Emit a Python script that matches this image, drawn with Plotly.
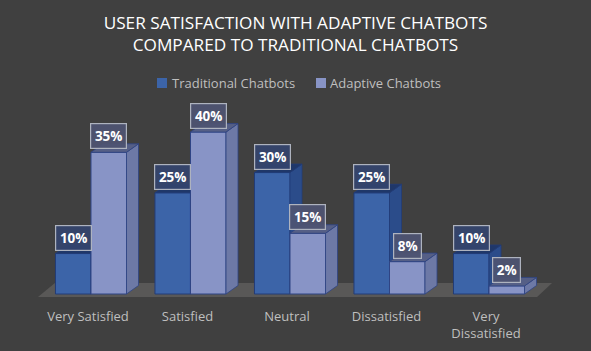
import plotly.graph_objects as go

categories = ["Very Satisfied", "Satisfied", "Neutral", "Dissatisfied", "Very<br>Dissatisfied"]
traditional = [10, 25, 30, 25, 10]
adaptive = [35, 40, 15, 8, 2]
series_names = ["Traditional Chatbots", "Adaptive Chatbots"]
title_text = "USER SATISFACTION WITH ADAPTIVE CHATBOTS<br>COMPARED TO TRADITIONAL CHATBOTS"

FONT = "Open Sans"
BG = "#404040"
BAR_W = 0.357
SHIFT = 0.03
DX = 0.1206
DY = 2.1
XR = [-0.5025, 4.673]
YR = [-1.48, 57.8]
M_L, M_R, M_T, M_B = 38, 38, 60, 51
W, H = 591, 351
xs = list(range(len(categories)))
FRONT = ["#3c64a8", "#8894c6"]


def px_x(p):
    return (p - M_L) / (W - M_L - M_R)


def px_y(p):
    return (H - M_B - p) / (H - M_T - M_B)


def faces(values, left_off):
    sx, sy, tx, ty = [], [], [], []
    for i, v in zip(xs, values):
        l = i + left_off
        r = l + BAR_W
        sx += [r, r + DX, r + DX, r, r, None]
        sy += [0, DY, v + DY, v, 0, None]
        tx += [l, l + DX, r + DX, r, l, None]
        ty += [v, v + DY, v + DY, v, v, None]
    return sx, sy, tx, ty


def add_series(fig, name, values, left_off, front, side, top, edge, xa, ya):
    fig.add_trace(go.Bar(
        x=xs, y=values, name=name, width=BAR_W, offset=left_off,
        marker=dict(color=front, line=dict(color=edge, width=1)),
        xaxis=xa, yaxis=ya, hoverinfo="skip", showlegend=False))
    sx, sy, tx, ty = faces(values, left_off)
    for px, py, c in ((sx, sy, side), (tx, ty, top)):
        fig.add_trace(go.Scatter(
            x=px, y=py, mode="lines", fill="toself", fillcolor=c,
            line=dict(color=edge, width=0.8), showlegend=False,
            xaxis=xa, yaxis=ya, hoverinfo="skip"))


fig = go.Figure()
add_series(fig, series_names[0], traditional, SHIFT - BAR_W,
           FRONT[0], "#2b4c8a", "#1f3769", "#223c78", "x", "y")
add_series(fig, series_names[1], adaptive, SHIFT,
           FRONT[1], "#6d79a6", "#555f86", "#2f4484", "x2", "y2")

annotations = []
for vals, off, fill in ((traditional, SHIFT - BAR_W / 2, "rgba(52,68,110,0.92)"),
                        (adaptive, SHIFT + BAR_W / 2, "rgba(78,84,114,0.92)")):
    for i, v in zip(xs, vals):
        annotations.append(dict(
            x=i + off, y=v, xref="x", yref="y", yshift=16, text=f"<b>{v}%</b>",
            showarrow=False, font=dict(family=FONT, size=13.5, color="#ffffff"),
            bgcolor=fill, bordercolor="#aeb3bf", borderwidth=1.2, borderpad=3,
            width=29 if v >= 10 else 21, height=18))

floor = f"M {XR[0]} -0.74 L {XR[0] + 0.17} 2.72 L 4.663 2.72 L 4.513 -0.74 Z"
shapes = [dict(type="path", path=floor, xref="x", yref="y", layer="below",
               fillcolor="#595857", line=dict(width=0))]

for name, color, sw, tx in zip(series_names, FRONT, (157, 316), (171, 329)):
    shapes.append(dict(type="rect", xref="paper", yref="paper",
                       x0=px_x(sw), x1=px_x(sw + 10), y0=px_y(88), y1=px_y(78),
                       fillcolor=color, line=dict(width=0), layer="above"))
    annotations.append(dict(x=px_x(tx), y=px_y(83), xref="paper", yref="paper",
                            xanchor="left", yanchor="middle", text=name, showarrow=False,
                            borderpad=0, font=dict(family=FONT, size=13, color="#bfbfbf")))

fig.update_layout(
    width=W, height=H,
    margin=dict(l=M_L, r=M_R, t=M_T, b=M_B),
    paper_bgcolor=BG, plot_bgcolor=BG,
    autosize=False,
    title=dict(text=title_text, x=0.5, xanchor="center", y=0.918, yanchor="top",
               font=dict(family=FONT, size=17.2, color="#ffffff")),
    xaxis=dict(range=XR, tickvals=xs, ticktext=categories, showgrid=False, zeroline=False,
               showline=False, ticks="outside", ticklen=4, tickcolor="rgba(0,0,0,0)",
               automargin=False,
               tickfont=dict(family=FONT, size=13, color="#bfbfbf"), tickangle=0),
    yaxis=dict(range=YR, visible=False, showgrid=False, zeroline=False, automargin=False),
    xaxis2=dict(range=XR, overlaying="x", matches="x", visible=False, automargin=False),
    yaxis2=dict(range=YR, overlaying="y", matches="y", visible=False, automargin=False),
    shapes=shapes,
    annotations=annotations,
    showlegend=False,
)

fig.write_html("out.html", config={"displayModeBar": False},
               post_script="document.body.style.margin='0';document.body.style.background='#404040';document.documentElement.style.overflow='hidden';")
